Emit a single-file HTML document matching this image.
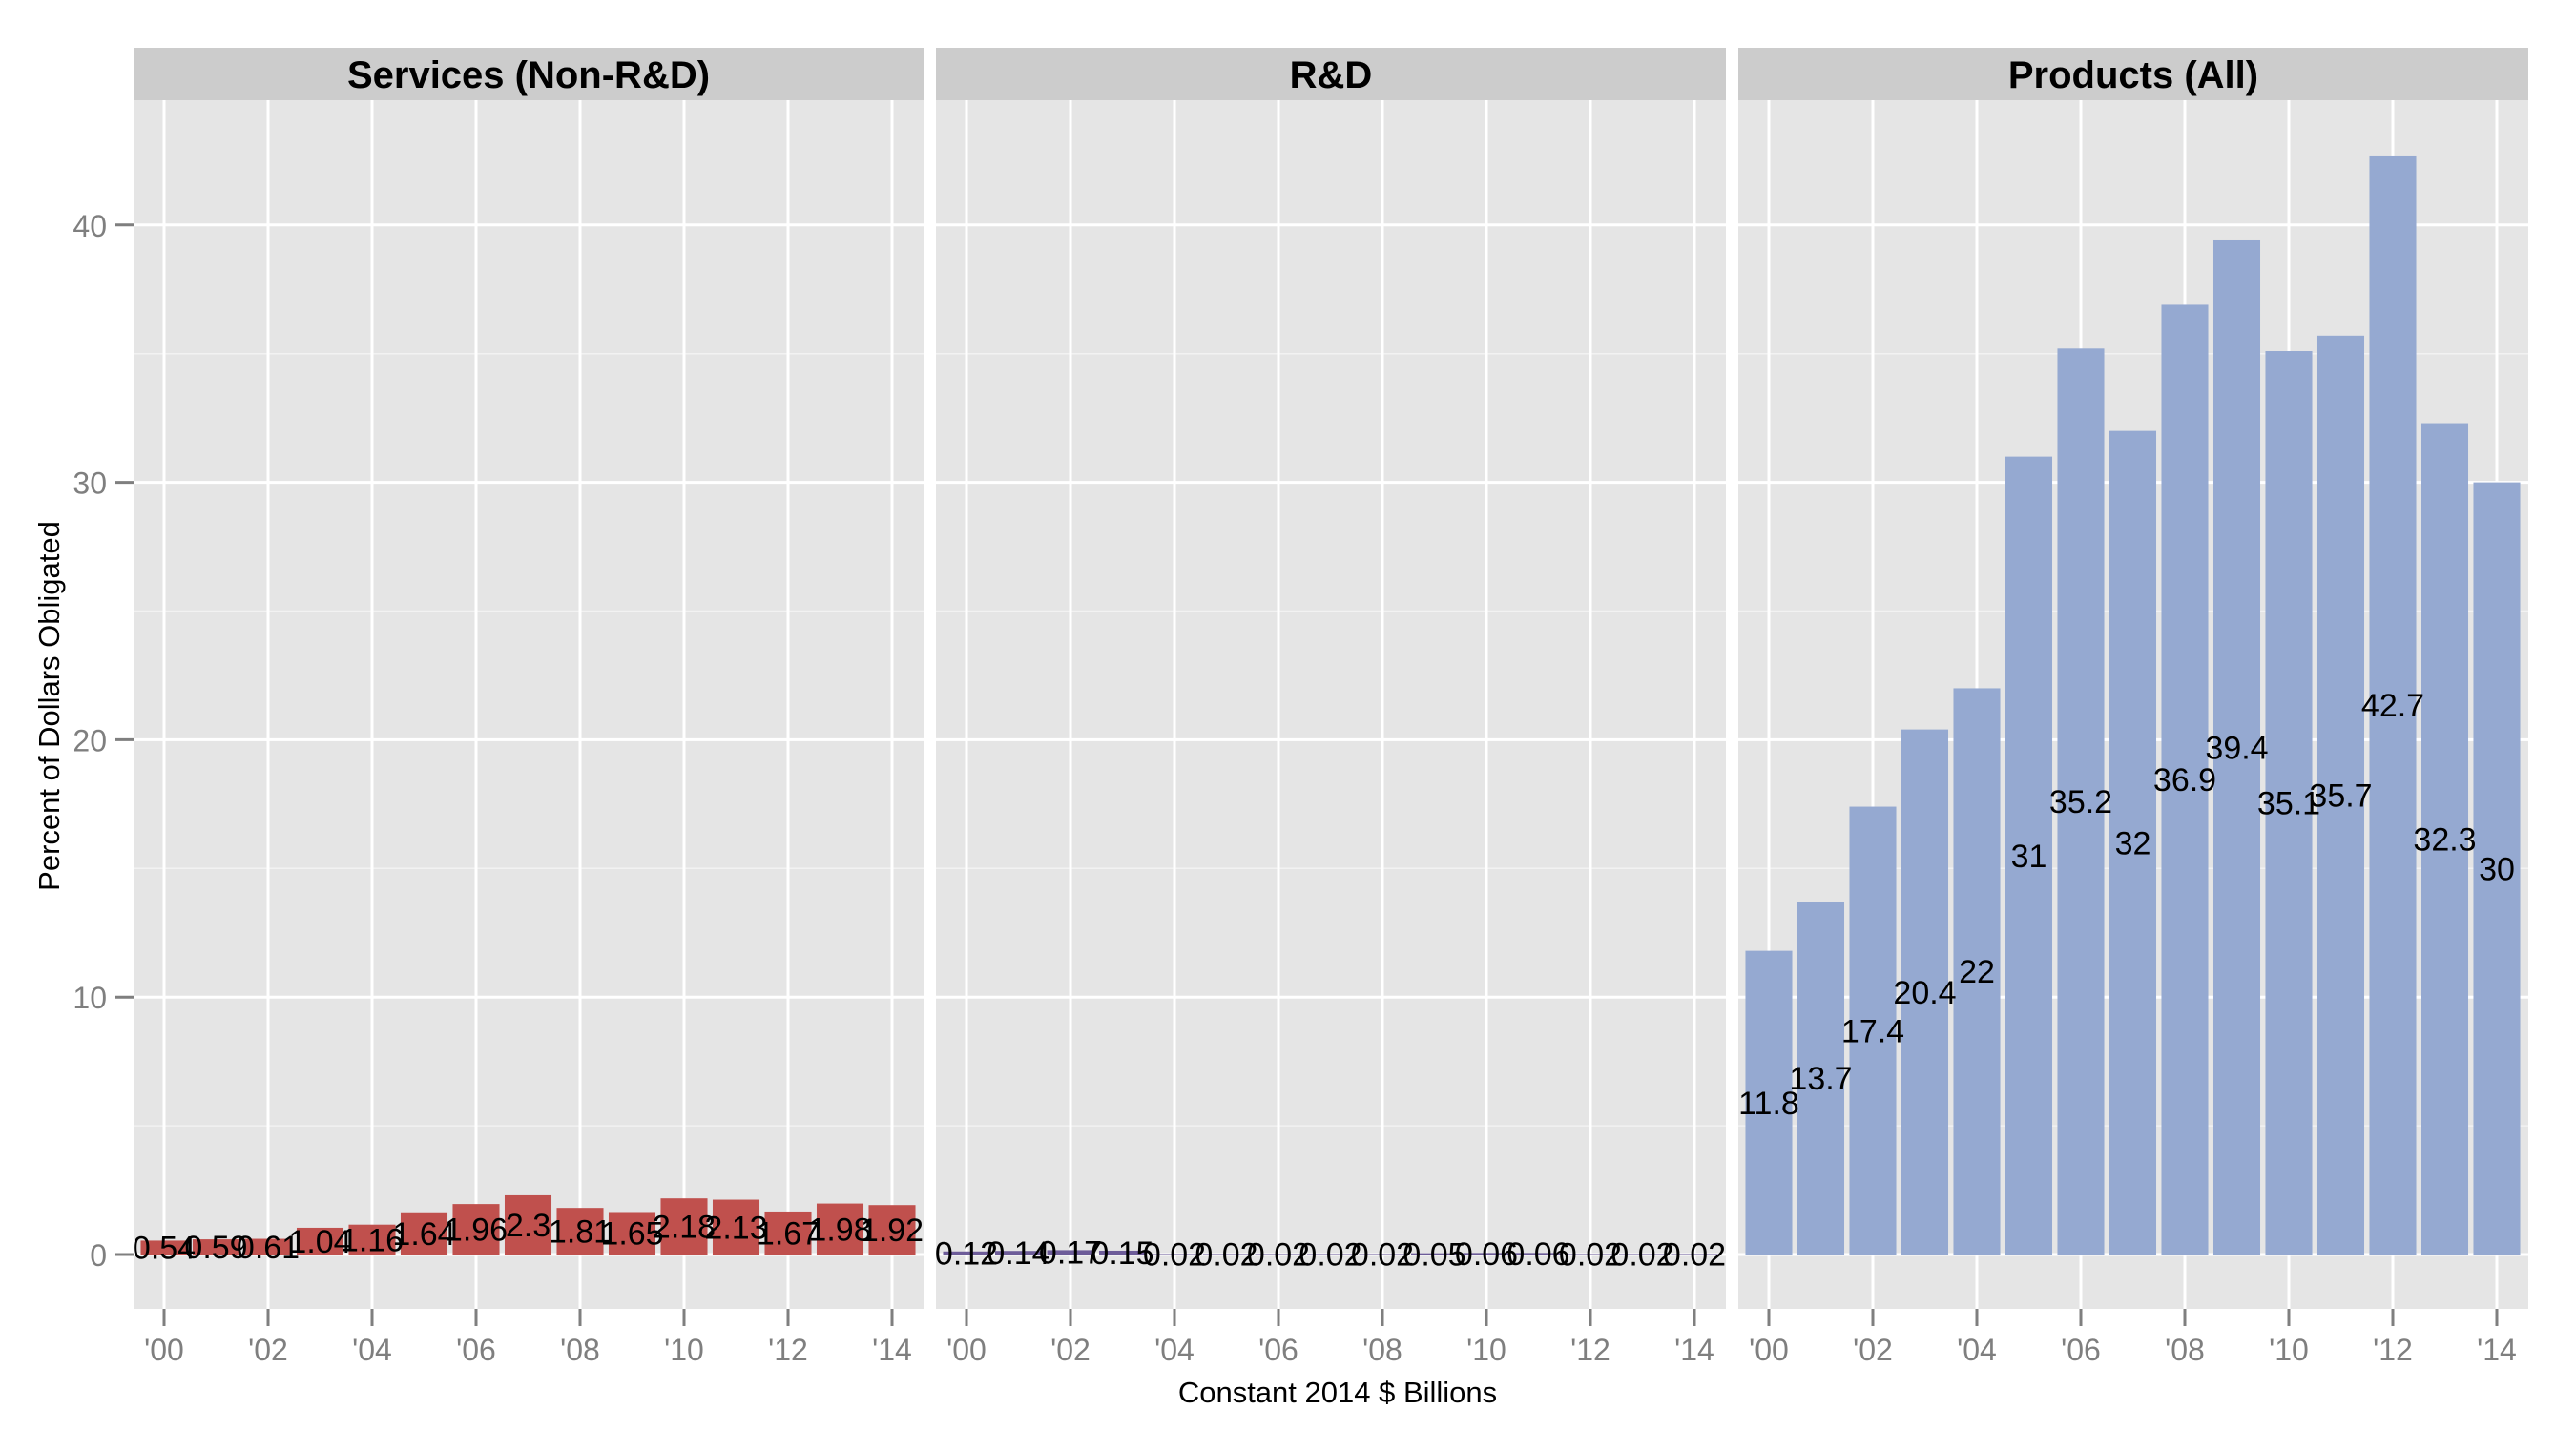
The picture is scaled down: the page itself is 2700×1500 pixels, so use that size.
<!DOCTYPE html>
<html><head><meta charset="utf-8">
<style>
html,body{margin:0;padding:0;background:#fff;}
svg{display:block;font-family:"Liberation Sans",Arial,sans-serif;}
</style></head>
<body>
<svg id="chart" width="2700" height="1500" viewBox="0 0 2700 1500" xmlns="http://www.w3.org/2000/svg">
<text x="0" y="0" transform="translate(62,740) rotate(-90)" text-anchor="middle" font-size="31" fill="#000">Percent of Dollars Obligated</text>
<text x="1402" y="1470" text-anchor="middle" font-size="31" fill="#000">Constant 2014 $ Billions</text>
</svg>
<script>
const years = [2000,2001,2002,2003,2004,2005,2006,2007,2008,2009,2010,2011,2012,2013,2014];
const tickYears = [2000,2002,2004,2006,2008,2010,2012,2014];
const tickLabels = ["'00","'02","'04","'06","'08","'10","'12","'14"];
const yTicks = [0,10,20,30,40];
const yMinor = [5,15,25,35];
const facetNames = ["Services (Non-R&D)","R&D","Products (All)"];
const servicesValues = [0.54,0.59,0.61,1.04,1.16,1.64,1.96,2.3,1.81,1.65,2.18,2.13,1.67,1.98,1.92];
const rdValues = [0.12,0.14,0.17,0.15,0.02,0.02,0.02,0.02,0.02,0.05,0.06,0.06,0.02,0.02,0.02];
const productsValues = [11.8,13.7,17.4,20.4,22,31,35.2,32,36.9,39.4,35.1,35.7,42.7,32.3,30];

const NS="http://www.w3.org/2000/svg";
const svg=document.getElementById('chart');
const panelLefts=[140,981,1822], panelW=828, panelTop=105, panelBottom=1372, stripTop=50;
const colors=["#c0504d","#6d5c99","#95a9d1"];
const series=[servicesValues,rdValues,productsValues];
const y0=1315, pxPerUnit=26.98;
function yScale(v){return y0 - v*pxPerUnit;}
const step=54.5;
function xScale(p,yr){return panelLefts[p]+32+(yr-2000)*step;}
function mk(tag,attrs,parent){const e=document.createElementNS(NS,tag);for(const k in attrs)e.setAttribute(k,attrs[k]);(parent||svg).appendChild(e);return e;}

for(let p=0;p<3;p++){
  const L=panelLefts[p];
  const g=mk('g',{});
  
  
  const strip=mk('rect',{x:L,y:stripTop,width:panelW,height:panelTop-stripTop,fill:'#cccccc'},g);
  
  
  const st=mk('text',{x:L+panelW/2,y:stripTop+42,'text-anchor':'middle','font-size':'40','font-weight':'bold',fill:'#000'},g);
  st.textContent=facetNames[p];
  
  
  const bg=mk('rect',{x:L,y:panelTop,width:panelW,height:panelBottom-panelTop,fill:'#e5e5e5'},g);
  
  
  yMinor.forEach(v=>{const l=mk('line',{x1:L,x2:L+panelW,y1:yScale(v),y2:yScale(v),stroke:'#f2f2f2','stroke-width':1.5},g);
    
    });
  yTicks.forEach(v=>{const l=mk('line',{x1:L,x2:L+panelW,y1:yScale(v),y2:yScale(v),stroke:'#fff','stroke-width':3},g);
    
    });
  tickYears.forEach((yr,i)=>{const x=xScale(p,yr);
    const l=mk('line',{x1:x,x2:x,y1:panelTop,y2:panelBottom,stroke:'#fff','stroke-width':3},g);
    
    
    const t=mk('line',{x1:x,x2:x,y1:panelBottom,y2:panelBottom+18,stroke:'#7f7f7f','stroke-width':3},g);
    
    
    const tl=mk('text',{x:x,y:panelBottom+54,'text-anchor':'middle','font-size':'32',fill:'#7f7f7f'},g);
    tl.textContent=tickLabels[i];
    
    });
  const vals=series[p];
  years.forEach((yr,i)=>{const v=vals[i];const x=xScale(p,yr);const bw=step*0.9;
    const b=mk('rect',{x:x-bw/2,y:yScale(v),width:bw,height:Math.max(y0-yScale(v),0.5),fill:colors[p]},g);
    
    
  });
  years.forEach((yr,i)=>{const v=vals[i];const x=xScale(p,yr);
    const t=mk('text',{x:x,y:yScale(v/2)+12,'text-anchor':'middle','font-size':'34',fill:'#000'},g);
    t.textContent=String(v);
    
    
  });
}
yTicks.forEach(v=>{
  const t=mk('line',{x1:121,x2:140,y1:yScale(v),y2:yScale(v),stroke:'#7f7f7f','stroke-width':3});
  
  
  const tl=mk('text',{x:112,y:yScale(v)+12,'text-anchor':'end','font-size':'32',fill:'#7f7f7f'});
  tl.textContent=String(v);
  
  
});
</script>
</body></html>
